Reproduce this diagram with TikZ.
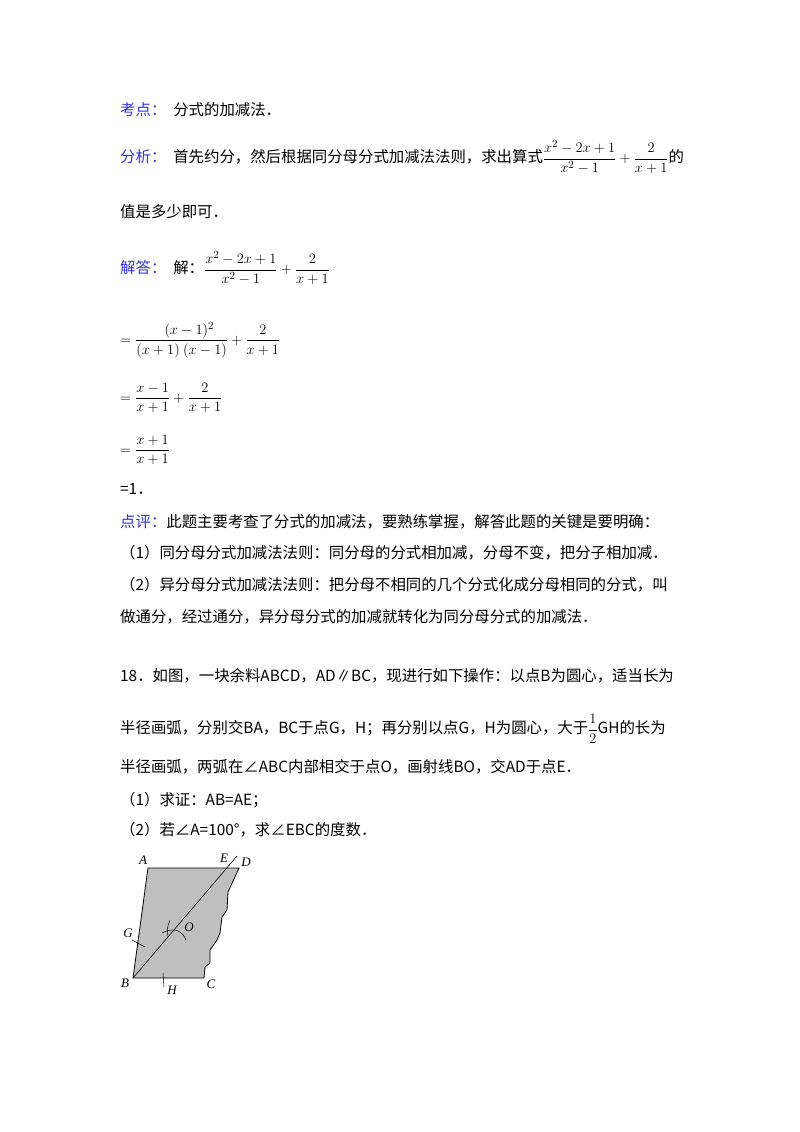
\documentclass[tikz,border=0pt]{standalone}
\usepackage{amsmath}
\usepackage{fontspec}
\setmainfont{Noto Sans CJK SC}
\newfontfamily\serifl{Liberation Serif}
\usetikzlibrary{calc}
\definecolor{hd}{rgb}{0.2,0.2,0.85}
\begin{document}
\begin{tikzpicture}[x=1pt,y=-1pt,
  txt/.style={anchor=west,inner sep=0pt,font=\fontsize{15.4}{18}\selectfont},
  lbl/.style={inner sep=0pt,font=\serifl\itshape\fontsize{13}{14}\selectfont}]
\useasboundingbox[fill=white] (0,0) rectangle (800,1132);
\node[txt] (t1) at (120,110) {\textcolor{hd}{考点：}\ \ 分式的加减法．};
\node[txt] (t2) at (120,157) {\textcolor{hd}{分析：}\ \ 首先约分，然后根据同分母分式加减法法则，求出算式$\dfrac{x^2-2x+1}{x^2-1}+\dfrac{2}{x+1}$的};
\node[txt] (t3) at (120,212) {值是多少即可．};
\node[txt] (t4) at (120,268) {\textcolor{hd}{解答：}\ \ 解：$\dfrac{x^2-2x+1}{x^2-1}+\dfrac{2}{x+1}$};
\node[txt] (t5) at (120,340) {$=\dfrac{\quad(x-1)^2}{(x+1)\ (x-1)}+\dfrac{2}{x+1}$};
\node[txt] (t6) at (120,398) {$=\dfrac{x-1}{x+1}+\dfrac{2}{x+1}$};
\node[txt] (t7) at (120,450) {$=\dfrac{x+1}{x+1}$};
\node[txt] (t8) at (120,489) {=1．};
\node[txt] (t9) at (120,522) {\textcolor{hd}{点评：}此题主要考查了分式的加减法，要熟练掌握，解答此题的关键是要明确：};
\node[txt] (t10) at (120,553) {（1）同分母分式加减法法则：同分母的分式相加减，分母不变，把分子相加减．};
\node[txt] (t11) at (120,585) {（2）异分母分式加减法法则：把分母不相同的几个分式化成分母相同的分式，叫};
\node[txt] (t12) at (120,617) {做通分，经过通分，异分母分式的加减就转化为同分母分式的加减法．};
\node[txt] (t13) at (120,676) {18．如图，一块余料ABCD，AD∥BC，现进行如下操作：以点B为圆心，适当长为};
\node[txt] (t14) at (120,729) {半径画弧，分别交BA，BC于点G，H；再分别以点G，H为圆心，大于$\dfrac{1}{2}$GH的长为};
\node[txt] (t15) at (120,767) {半径画弧，两弧在∠ABC内部相交于点O，画射线BO，交AD于点E．};
\node[txt] (t16) at (120,800) {（1）求证：AB=AE；};
\node[txt] (t17) at (120,830) {（2）若∠A=100°，求∠EBC的度数．};
% figure
\coordinate (A) at (148,868);
\coordinate (D) at (239,868);
\coordinate (B) at (133,978);
\coordinate (C) at (204,978);
\coordinate (R) at (237,856);
\coordinate (O) at (175,931);
\filldraw[fill=black!25,draw=black,line width=0.8pt] (A) -- (D) -- (228,892) -- (227,910) -- (222,917) -- (220,933) -- (217,940) -- (210,950) -- (210,963) -- (205,967) -- (C) -- (B) -- cycle;
\draw[line width=0.6pt] (B) -- (R);
\draw[line width=0.5pt] (132,940) -- (145,947);
\draw[line width=0.5pt] (163,973) -- (164,987);
\draw[line width=0.5pt] (170,920) .. controls (167,928) .. (168,937);
\draw[line width=0.5pt] (162,933) .. controls (175,926) and (183,932) .. (186,940);
\node[lbl] (la) at (143,860) {A};
\node[lbl] (le) at (224,858) {E};
\node[lbl] (ld) at (246,862) {D};
\node[lbl] (lg) at (128,933) {G};
\node[lbl] (lo) at (189,927) {O};
\node[lbl] (lb) at (125,983) {B};
\node[lbl] (lh) at (172,990) {H};
\node[lbl] (lc) at (211,984) {C};
\end{tikzpicture}
\end{document}
